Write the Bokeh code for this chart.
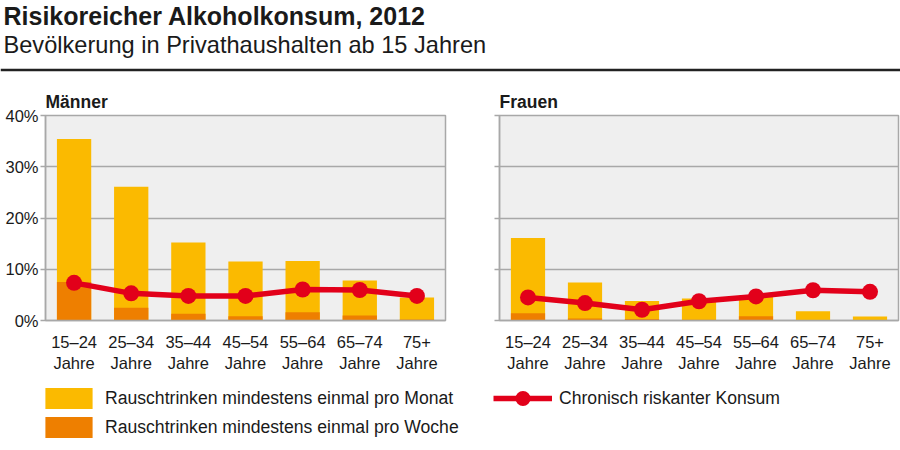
from bokeh.plotting import figure
from bokeh.models import (FactorRange, Range1d, FixedTicker, Label, Span, Legend, LegendItem,
                          ColumnDataSource, CategoricalAxis, CustomJSTickFormatter)
from bokeh.layouts import column, row
from bokeh.embed import file_html
from bokeh.resources import INLINE

# ---------------- data ----------------
categories = ["15–24", "25–34", "35–44", "45–54", "55–64", "65–74", "75+"]
category_second_line = "Jahre"

men_monthly = [35.4, 26.1, 15.2, 11.5, 11.6, 7.8, 4.5]
men_weekly = [7.5, 2.5, 1.3, 0.85, 1.6, 1.0, 0.2]
men_chronic = [7.35, 5.3, 4.8, 4.8, 6.05, 5.95, 4.8]

women_monthly = [16.1, 7.4, 3.8, 4.3, 4.9, 1.8, 0.8]
women_weekly = [1.4, 0.4, 0.3, 0.15, 0.85, 0.0, 0.0]
women_chronic = [4.5, 3.4, 2.1, 3.75, 4.7, 5.9, 5.6]

y_ticks = [0, 10, 20, 30, 40]
y_tick_labels = ["0%", "10%", "20%", "30%", "40%"]

title_text = "Risikoreicher Alkoholkonsum, 2012"
subtitle_text = "Bevölkerung in Privathaushalten ab 15 Jahren"
panel_titles = ["Männer", "Frauen"]
legend_labels = ["Rauschtrinken mindestens einmal pro Monat",
                 "Rauschtrinken mindestens einmal pro Woche",
                 "Chronisch riskanter Konsum"]

# ---------------- style ----------------
FONT = "Liberation Sans"
YELLOW = "#FBBA00"
ORANGE = "#EE7F00"
RED = "#E2001A"
BG = "#EFEFEF"
GRID = "#A8A8A8"
TXT = "#1a1a1a"
TOTAL_W = 900


def blank(width, height, xr, yr):
    p = figure(width=width, height=height, x_range=xr, y_range=yr,
               x_axis_type=None, y_axis_type=None,
               output_backend="svg", toolbar_location=None,
               min_border_left=0, min_border_right=0, min_border_top=0, min_border_bottom=0)
    p.grid.visible = False
    p.outline_line_color = None
    p.background_fill_color = None
    p.border_fill_color = None
    return p


# ---------------- header ----------------
header = blank(TOTAL_W, 85, Range1d(0, TOTAL_W), Range1d(85, 0))
header.add_layout(Label(x=3, y=15, text=title_text, text_font=FONT, text_font_style="bold",
                        text_font_size="25px", text_color=TXT, text_baseline="middle"))
header.add_layout(Label(x=3, y=44, text=subtitle_text, text_font=FONT,
                        text_font_size="23.6px", text_color=TXT, text_baseline="middle"))
header.add_layout(Span(location=69.5, dimension="width", line_color="#222222", line_width=2.5))


def panel(name, monthly, weekly, chronic, show_labels, frame_w, left_border, right_border):
    p = figure(x_range=FactorRange(*categories), y_range=Range1d(0, 40),
               frame_width=frame_w, frame_height=205,
               output_backend="svg", toolbar_location=None,
               min_border_left=left_border, min_border_right=right_border,
               min_border_top=30, min_border_bottom=55)
    p.background_fill_color = BG
    p.border_fill_color = None
    p.outline_line_color = GRID
    p.outline_line_width = 1.5

    p.title.text = name
    p.title.align = "left"
    p.title.text_font = FONT
    p.title.text_font_style = "bold"
    p.title.text_font_size = "17.5px"
    p.title.text_color = TXT
    p.title.standoff = 7

    src = ColumnDataSource(dict(cat=categories, monthly=monthly, weekly=weekly, chronic=chronic))
    p.vbar(x="cat", top="monthly", width=0.6, source=src, fill_color=YELLOW, line_color=None)
    p.vbar(x="cat", top="weekly", width=0.6, source=src, fill_color=ORANGE, line_color=None)
    p.line(x="cat", y="chronic", source=src, line_color=RED, line_width=5.5)
    p.scatter(x="cat", y="chronic", source=src, size=16, fill_color=RED, line_color=None)

    p.xgrid.visible = False
    p.ygrid.ticker = FixedTicker(ticks=y_ticks)
    p.ygrid.grid_line_color = GRID
    p.ygrid.grid_line_width = 1.5

    p.yaxis.ticker = FixedTicker(ticks=y_ticks)
    p.yaxis.axis_line_color = GRID
    p.yaxis.axis_line_width = 1.5
    p.yaxis.major_tick_line_color = GRID
    p.yaxis.major_tick_line_width = 1.5
    p.yaxis.major_tick_out = 5
    p.yaxis.major_tick_in = 0
    p.yaxis.minor_tick_line_color = None
    p.yaxis.major_label_text_font = FONT
    p.yaxis.major_label_text_font_size = "16.5px"
    p.yaxis.major_label_text_color = TXT
    p.yaxis.major_label_standoff = 2
    if show_labels:
        p.yaxis.major_label_overrides = {t: l for t, l in zip(y_ticks, y_tick_labels)}
    else:
        p.yaxis.major_label_overrides = {t: "" for t in y_ticks}

    p.xaxis.axis_line_color = GRID
    p.xaxis.axis_line_width = 1.5
    p.xaxis.major_tick_line_color = None
    p.xaxis.major_tick_out = 0
    p.xaxis.major_tick_in = 0
    p.xaxis.minor_tick_line_color = None
    p.xaxis.major_label_text_font = FONT
    p.xaxis.major_label_text_font_size = "16.5px"
    p.xaxis.major_label_text_color = TXT
    p.xaxis.major_label_standoff = 12

    ax2 = CategoricalAxis(axis_line_color=None, major_tick_line_color=None,
                          major_tick_out=0, major_tick_in=0,
                          minor_tick_line_color=None, major_label_standoff=0,
                          major_label_text_font=FONT, major_label_text_font_size="16.5px",
                          major_label_text_color=TXT,
                          formatter=CustomJSTickFormatter(args=dict(label=category_second_line),
                                                          code="return label"))
    p.add_layout(ax2, "below")
    return p


men = panel(panel_titles[0], men_monthly, men_weekly, men_chronic, True, 400, 45, 5)
women = panel(panel_titles[1], women_monthly, women_weekly, women_chronic, False, 399, 49, 2)

# ---------------- legend ----------------
leg = blank(TOTAL_W, 75, Range1d(0, 1), Range1d(0, 1))
nan = float("nan")
proxy = ColumnDataSource(dict(x=[nan], top=[nan], y=[nan]))
r1 = leg.vbar(x="x", top="top", width=0.5, source=proxy, fill_color=YELLOW, line_color=None)
r2 = leg.vbar(x="x", top="top", width=0.5, source=proxy, fill_color=ORANGE, line_color=None)
r3 = leg.line(x="x", y="y", source=proxy, line_color=RED, line_width=5.5)
r4 = leg.scatter(x="x", y="y", source=proxy, size=15, fill_color=RED, line_color=None)
legend_style = dict(padding=0, margin=0, border_line_color=None, background_fill_alpha=0,
                    label_text_font=FONT, label_text_font_size="17.6px", label_text_color=TXT,
                    label_standoff=7, glyph_width=59)
legend_bars = Legend(items=[LegendItem(label=legend_labels[0], renderers=[r1]),
                            LegendItem(label=legend_labels[1], renderers=[r2])],
                     location=(39, 10), orientation="vertical",
                     glyph_height=26, label_height=26, spacing=3, **legend_style)
legend_line = Legend(items=[LegendItem(label=legend_labels[2], renderers=[r3, r4])],
                     location=(493, 33), orientation="vertical",
                     glyph_height=38, label_height=38, **legend_style)
leg.add_layout(legend_bars)
leg.add_layout(legend_line)

layout = column(header, row(men, women), leg)
open("out.html", "w").write(file_html(layout, INLINE))
